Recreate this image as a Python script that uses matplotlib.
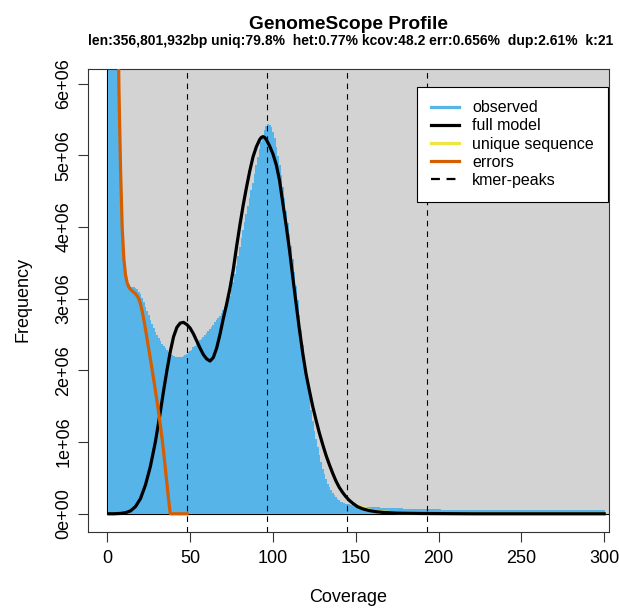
import numpy as np
import matplotlib.pyplot as plt
from matplotlib.patches import Rectangle
from matplotlib.lines import Line2D

plt.rcParams['font.family'] = ['Liberation Sans', 'DejaVu Sans']

# Colours (GenomeScope defaults)
hist_color = "#56B4E9"
model_color = "black"
unique_color = "#F0E442"
error_color = "#D55E00"
bg_color = "#D3D3D3"

title = "GenomeScope Profile"
subtitle = "len:356,801,932bp uniq:79.8%  het:0.77% kcov:48.2 err:0.656%  dup:2.61%  k:21"

kcov = 48.2
peak_multiples = [1, 2, 3, 4]

# observed k-mer histogram (frequency in millions), coverage 1..300
obs_cov = list(range(1, 301))
obs_freq = [
    200, 80, 35, 18, 11, 7.6, 5.9, 4.75, 3.98, 3.58,                      # 1-10
    3.36, 3.26, 3.20, 3.18, 3.17, 3.16, 3.15, 3.13, 3.10, 3.06,           # 11-20
    3.01, 2.95, 2.89, 2.83, 2.77, 2.71, 2.65, 2.59, 2.54, 2.49,           # 21-30
    2.45, 2.41, 2.37, 2.34, 2.31, 2.28, 2.26, 2.24, 2.22, 2.20,           # 31-40
    2.19, 2.18, 2.18, 2.185, 2.19, 2.20, 2.21, 2.23, 2.25, 2.27,          # 41-50
    2.29, 2.32, 2.34, 2.37, 2.39, 2.42, 2.44, 2.47, 2.50, 2.52,           # 51-60
    2.55, 2.58, 2.61, 2.64, 2.67, 2.70, 2.73, 2.76, 2.80, 2.84,           # 61-70
    2.88, 2.93, 2.98, 3.04, 3.13, 3.23, 3.34, 3.46, 3.59, 3.72,           # 71-80
    3.84, 3.96, 4.07, 4.18, 4.29, 4.40, 4.51, 4.62, 4.74, 4.86,           # 81-90
    4.98, 5.09, 5.19, 5.28, 5.35, 5.41, 5.44, 5.43, 5.39, 5.33,           # 91-100
    5.24, 5.12, 4.99, 4.86, 4.72, 4.56, 4.40, 4.23, 4.06, 3.90,           # 101-110
    3.73, 3.55, 3.37, 3.18, 2.98, 2.77, 2.56, 2.35, 2.15, 1.96,           # 111-120
    1.78, 1.61, 1.45, 1.30, 1.16, 1.04, 0.93, 0.82, 0.72, 0.63,           # 121-130
    0.55, 0.48, 0.42, 0.37, 0.33, 0.29, 0.26, 0.23, 0.21, 0.19,           # 131-140
    0.17, 0.16, 0.15, 0.14, 0.135, 0.13, 0.125, 0.12, 0.115, 0.11,        # 141-150
    0.108, 0.106, 0.104, 0.102, 0.100, 0.099, 0.097, 0.096, 0.094, 0.093,  # 151-160
    0.091, 0.090, 0.089, 0.088, 0.087, 0.086, 0.085, 0.084, 0.083, 0.082,  # 161-170
    0.081, 0.080, 0.079, 0.078, 0.077, 0.076, 0.075, 0.074, 0.073, 0.072,  # 171-180
    0.071, 0.070, 0.070, 0.069, 0.068, 0.068, 0.067, 0.066, 0.066, 0.065,  # 181-190
    0.065, 0.064, 0.064, 0.063, 0.063, 0.062, 0.062, 0.061, 0.061, 0.060,  # 191-200
    0.060, 0.059, 0.059, 0.059, 0.058, 0.058, 0.058, 0.057, 0.057, 0.057,  # 201-210
    0.057, 0.056, 0.056, 0.056, 0.056, 0.055, 0.055, 0.055, 0.055, 0.055,  # 211-220
    0.054, 0.054, 0.054, 0.054, 0.054, 0.054, 0.053, 0.053, 0.053, 0.053,  # 221-230
    0.053, 0.053, 0.053, 0.052, 0.052, 0.052, 0.052, 0.052, 0.052, 0.052,  # 231-240
    0.052, 0.051, 0.051, 0.051, 0.051, 0.051, 0.051, 0.051, 0.051, 0.051,  # 241-250
    0.051, 0.050, 0.050, 0.050, 0.050, 0.050, 0.050, 0.050, 0.050, 0.050,  # 251-260
    0.050, 0.050, 0.050, 0.049, 0.049, 0.049, 0.049, 0.049, 0.049, 0.049,  # 261-270
    0.049, 0.049, 0.049, 0.049, 0.049, 0.049, 0.048, 0.048, 0.048, 0.048,  # 271-280
    0.048, 0.048, 0.048, 0.048, 0.048, 0.048, 0.048, 0.048, 0.048, 0.048,  # 281-290
    0.048, 0.048, 0.047, 0.047, 0.047, 0.047, 0.047, 0.047, 0.047, 0.047,  # 291-300
]

# full model (millions)
model_cov = [1, 4, 8, 11, 14, 17, 20, 23, 26, 29, 32, 34, 36, 38, 40, 42, 44, 46,
             48, 50, 52, 54, 56, 58, 60, 62, 64, 66, 68, 70, 72, 74, 76, 78, 80,
             82, 84, 86, 88, 90, 92, 93, 94, 95, 96, 98, 100, 102, 104, 106, 108,
             110, 112, 114, 116, 118, 120, 122, 124, 126, 128, 130, 132, 134, 136,
             138, 140, 142, 144, 146, 148, 151, 154, 158, 162, 167, 175, 190, 220,
             260, 300]
model_freq = [0.0, 0.0, 0.005, 0.015, 0.04, 0.1, 0.21, 0.4, 0.66, 1.0, 1.42, 1.72,
              2.0, 2.26, 2.47, 2.6, 2.66, 2.67, 2.64, 2.59, 2.51, 2.41, 2.31, 2.22,
              2.16, 2.13, 2.18, 2.31, 2.5, 2.72, 2.92, 3.14, 3.4, 3.72, 4.02, 4.3,
              4.55, 4.78, 4.98, 5.12, 5.22, 5.25, 5.26, 5.25, 5.22, 5.13, 5.02, 4.87,
              4.65, 4.33, 4.02, 3.68, 3.3, 2.93, 2.57, 2.24, 1.95, 1.72, 1.5, 1.31,
              1.13, 0.97, 0.82, 0.69, 0.57, 0.46, 0.37, 0.3, 0.24, 0.19, 0.15, 0.1,
              0.07, 0.045, 0.03, 0.018, 0.01, 0.004, 0.0, 0.0, 0.0]

# unique sequence (hidden under the model apart from a faint edge in the tail)
unique_cov = [150, 160, 175, 190, 220, 260, 300]
unique_freq = [0.12, 0.042, 0.013, 0.006, 0.004, 0.004, 0.004]

# errors (millions)
error_cov = [5, 6, 7, 8, 9, 10, 11, 12, 13, 14, 15, 16, 17, 18, 19, 20, 21, 22, 23,
             24, 25, 26, 27, 28, 29, 30, 31, 32, 33, 34, 35, 36, 37, 38, 48.2]
error_freq = [11.5, 7.9, 5.95, 4.8, 3.98, 3.55, 3.33, 3.22, 3.16, 3.13, 3.11, 3.09,
              3.07, 3.04, 3.0, 2.93, 2.83, 2.71, 2.58, 2.44, 2.3, 2.16, 2.02, 1.87,
              1.72, 1.57, 1.41, 1.24, 1.06, 0.86, 0.64, 0.42, 0.2, 0.0, 0.0]

x_ticks = [0, 50, 100, 150, 200, 250, 300]
y_ticks = [0, 1e6, 2e6, 3e6, 4e6, 5e6, 6e6]
y_tick_labels = ["0e+00", "1e+06", "2e+06", "3e+06", "4e+06", "5e+06", "6e+06"]

M = 1e6
fig = plt.figure(figsize=(6.19, 6.08), dpi=100)
ax = fig.add_axes([0.1422, 0.1255, 0.8416, 0.7605])

ax.add_patch(Rectangle((0, 0), 1000, 1e9, facecolor=bg_color, edgecolor='black',
                       linewidth=0.8, zorder=0))
ax.bar(obs_cov, np.array(obs_freq) * M, width=1.15, color=hist_color, linewidth=0,
       antialiased=False, zorder=1)
ax.plot(unique_cov, np.array(unique_freq) * M, color=unique_color, lw=2.0, zorder=2)
ax.plot(model_cov, np.array(model_freq) * M, color=model_color, lw=2.3, zorder=3)
ax.plot(error_cov, np.array(error_freq) * M, color=error_color, lw=2.3, zorder=4)
for m in peak_multiples:
    ax.axvline(kcov * m, color='black', lw=0.8, linestyle=(0, (5, 4.5)), zorder=5)

ax.set_xlim(-11.65, 302.9)
ax.set_ylim(-0.25e6, 6.2e6)
ax.set_xticks(x_ticks)
ax.set_yticks(y_ticks)
ax.set_yticklabels(y_tick_labels, rotation=90, va='center')
ax.tick_params(axis='both', direction='out', length=7.2, width=0.8, labelsize=13,
               color='#333333')
ax.tick_params(axis='x', pad=6)
ax.tick_params(axis='y', pad=4)
for s in ax.spines.values():
    s.set_linewidth(0.8)
    s.set_color('#333333')

fig.text(0.563, 1 - 29 / 608, title, ha='center', va='baseline',
         fontsize=13.8, fontweight='bold')
fig.text(0.566, 1 - 45 / 608, subtitle, ha='center', va='baseline',
         fontsize=10, fontweight='bold')
fig.text(0.563, 1 - 602 / 608, "Coverage", ha='center', va='baseline', fontsize=13)
fig.text(23.3 / 619, 1 - 300 / 608, "Frequency", ha='center', va='center',
         rotation=90, fontsize=13)

handles = [
    Line2D([0], [0], color=hist_color, lw=2.3),
    Line2D([0], [0], color=model_color, lw=2.3),
    Line2D([0], [0], color=unique_color, lw=2.3),
    Line2D([0], [0], color=error_color, lw=2.3),
    Line2D([0], [0], color='black', lw=1.6, linestyle=(0, (4, 3))),
]
labels = ["observed", "full model", "unique sequence", "errors", "kmer-peaks"]
leg = ax.legend(handles, labels, loc='upper right', bbox_to_anchor=(0.9975, 0.9624),
                borderaxespad=0, fontsize=11.5, frameon=True, fancybox=False,
                framealpha=1, edgecolor='black', handlelength=1.75,
                handletextpad=0.85, labelspacing=0.2, borderpad=0.85)
leg.get_frame().set_linewidth(0.8)
leg.set_zorder(10)

fig.savefig("out.png", dpi=100)
